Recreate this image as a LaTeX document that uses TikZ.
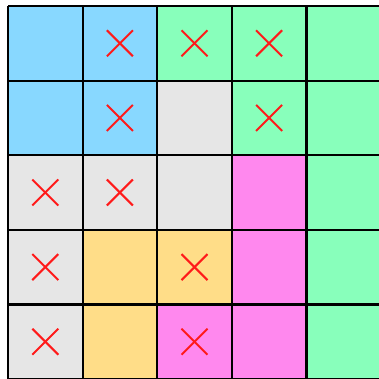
\documentclass[tikz,border=0pt]{standalone}
\definecolor{cblue}{HTML}{88D8FF}
\definecolor{cgreen}{HTML}{88FFBB}
\definecolor{cgray}{HTML}{E6E6E6}
\definecolor{cpink}{HTML}{FF88EE}
\definecolor{cyellow}{HTML}{FFDD88}
\definecolor{cred}{HTML}{FF1A1A}
\begin{document}
\begin{tikzpicture}[x=1pt,y=-1pt,
  gridline/.style={draw=black,line width=2.2pt},
  cross/.style={draw=cred,line width=2pt}]
\useasboundingbox (0,0) rectangle (379,378);
\fill[white] (0,0) rectangle (379,378);
\clip (0,0) rectangle (379,378);
\foreach \r/\row in {0/{cblue,cblue,cgreen,cgreen,cgreen},
                     1/{cblue,cblue,cgray,cgreen,cgreen},
                     2/{cgray,cgray,cgray,cpink,cgreen},
                     3/{cgray,cyellow,cyellow,cpink,cgreen},
                     4/{cgray,cyellow,cpink,cpink,cgreen}}{
  \foreach \col [count=\c from 0] in \row {
    \fill[\col] (8+74.6*\c,6+74.6*\r) rectangle ++(74.6,74.6);
  }
}
\foreach \i in {0,...,5}{
  \draw[gridline] (8+74.6*\i,6) -- (8+74.6*\i,390);
  \draw[gridline] (8,6+74.6*\i) -- (390,6+74.6*\i);
}
\foreach \r/\c in {0/1,0/2,0/3,1/1,1/3,2/0,2/1,3/0,3/2,4/0,4/2}{
  \coordinate (m\r\c) at (45.3+74.6*\c,43.3+74.6*\r);
  \draw[cross] ([shift={(-13pt,13pt)}]m\r\c) -- ([shift={(13pt,-13pt)}]m\r\c);
  \draw[cross] ([shift={(-13pt,-13pt)}]m\r\c) -- ([shift={(13pt,13pt)}]m\r\c);
}
\end{tikzpicture}
\end{document}
